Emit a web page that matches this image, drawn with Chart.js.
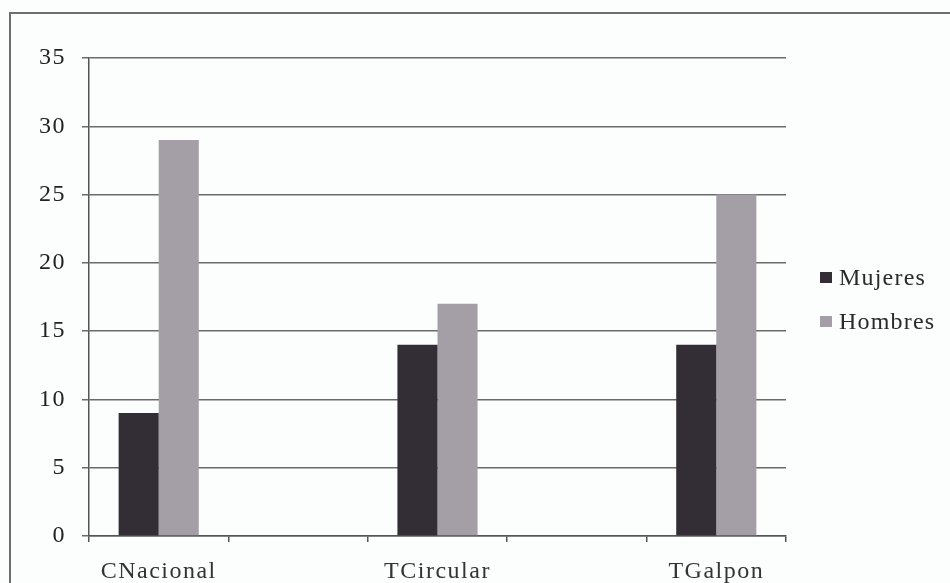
<!DOCTYPE html>
<html>
<head>
<meta charset="utf-8">
<script src="https://cdn.jsdelivr.net/npm/chart.js@4"></script>
<style>
  html, body { margin: 0; padding: 0; background: #fcfdfd; overflow: hidden; }
  #wrap { position: relative; width: 950px; height: 583px; }
  #frame { position: absolute; left: 9px; top: 12px; width: 1000px; height: 700px;
           border-left: 2px solid #6e6e6e; border-top: 2px solid #6e6e6e; }
  canvas { position: absolute; left: 0; top: 0; }
</style>
</head>
<body>
<div id="wrap">
  <div id="frame"></div>
  <canvas id="chart" width="950" height="583"></canvas>
</div>
<script>
// Survey groups; the empty slots keep the wide spacing between the three sites
const categories = ['CNacional', '', 'TCircular', '', 'TGalpon'];
const mujeres = [9, null, 14, null, 14];
const hombres = [29, null, 17, null, 25];
const yTicks = [0, 5, 10, 15, 20, 25, 30, 35];

const seriesNames = ['Mujeres', 'Hombres'];
const seriesColors = ['#332e35', '#a49ea6'];
const serif = "'Liberation Serif', 'Times New Roman', serif";

// Slightly open letter spacing for all chart text
const spacedText = {
  id: 'spacedText',
  beforeDraw(chart) { chart.ctx.letterSpacing = '1.5px'; },
  afterDraw(chart) { chart.ctx.letterSpacing = '0px'; }
};

// Legend drawn beside the plot, vertically centred
const sideLegend = {
  id: 'sideLegend',
  afterDraw(chart) {
    const c = chart.ctx;
    c.save();
    c.letterSpacing = '1.2px';
    c.font = '24px ' + serif;
    c.textBaseline = 'middle';
    const ys = [278, 322];
    seriesNames.forEach((name, i) => {
      c.fillStyle = seriesColors[i];
      c.fillRect(820, ys[i] - 6, 12, 11);
      c.fillStyle = '#2a2a2a';
      c.fillText(name, 839, ys[i] + 1);
    });
    c.restore();
  }
};

new Chart(document.getElementById('chart'), {
  type: 'bar',
  data: {
    labels: categories,
    datasets: [
      { label: seriesNames[0], data: mujeres, backgroundColor: seriesColors[0],
        barPercentage: 1, categoryPercentage: 0.575 },
      { label: seriesNames[1], data: hombres, backgroundColor: seriesColors[1],
        barPercentage: 1, categoryPercentage: 0.575 }
    ]
  },
  options: {
    responsive: false,
    animation: false,
    layout: { padding: { top: 58, right: 164, bottom: 0, left: 0 } },
    plugins: { legend: { display: false }, tooltip: { enabled: false } },
    scales: {
      x: {
        offset: true,
        grid: { offset: true, drawOnChartArea: false, drawTicks: true, tickLength: 6,
                color: '#555', lineWidth: 1.5 },
        border: { display: true, color: '#555', width: 1.5 },
        ticks: { color: '#333', font: { family: serif, size: 24 }, padding: 15,
                 maxRotation: 0, autoSkip: false },
        afterFit(scale) { scale.height = 47; }
      },
      y: {
        min: 0, max: 35,
        afterBuildTicks(scale) { scale.ticks = yTicks.map(v => ({ value: v })); },
        grid: { color: '#6a6a6a', lineWidth: 1.5, tickLength: 7 },
        border: { display: true, color: '#555', width: 1.5 },
        ticks: { color: '#222', font: { family: serif, size: 24 }, padding: 16 },
        afterFit(scale) { scale.width = 89; }
      }
    }
  },
  plugins: [spacedText, sideLegend]
});
</script>
</body>
</html>
